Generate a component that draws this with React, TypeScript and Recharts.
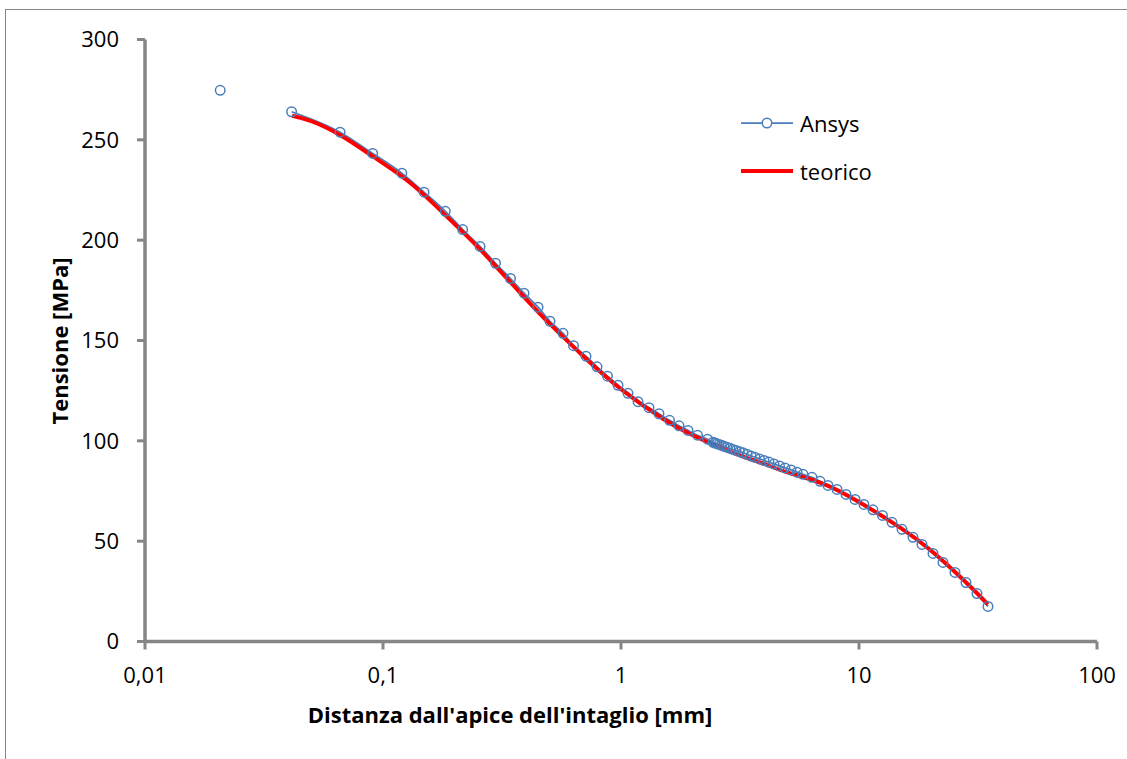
import { ComposedChart, Line, XAxis, YAxis, Legend } from 'recharts';

// Ansys (FEM) points: distance from notch tip [mm] and stress [MPa]
const ansysX = [
  0.0413, 0.066, 0.0905, 0.12, 0.1487, 0.1827, 0.2162, 0.2557, 0.297, 0.3433,
  0.3913, 0.4481, 0.503, 0.5706, 0.6316, 0.7125, 0.7929, 0.8775, 0.9714, 1.07,
  1.179, 1.311, 1.444, 1.599, 1.753, 1.912, 2.096, 2.309, 2.436, 2.483,
  2.531, 2.58, 2.643, 2.708, 2.788, 2.871, 2.955, 3.042, 3.147, 3.255,
  3.384, 3.517, 3.656, 3.819, 3.989, 4.186, 4.394, 4.634, 4.887, 5.18,
  5.49, 5.818, 6.346, 6.859, 7.409, 8.085, 8.818, 9.621, 10.49, 11.45,
  12.55, 13.76, 15.16, 16.86, 18.39, 20.46, 22.54, 25.31, 28.15, 31.32, 34.83,
];
const ansysY = [
  264.0, 253.8, 243.2, 233.4, 223.9, 214.4, 205.3, 196.9, 188.5, 180.9,
  173.6, 166.6, 159.6, 153.6, 147.4, 142.2, 136.9, 132.2, 127.7, 123.7,
  119.5, 116.5, 113.5, 110.2, 107.5, 105.2, 102.8, 100.8, 99.3, 98.9,
  98.6, 98.2, 97.8, 97.3, 96.8, 96.3, 95.7, 95.2, 94.6, 94.0,
  93.3, 92.5, 91.8, 91.0, 90.2, 89.4, 88.5, 87.5, 86.5, 85.5,
  84.4, 83.3, 81.8, 79.8, 77.8, 75.8, 73.3, 70.8, 68.3, 65.6,
  62.8, 59.4, 55.9, 51.9, 48.4, 43.9, 39.4, 34.4, 29.4, 23.9, 17.5,
];

// first node, not joined to the rest of the curve
const loneX = [0.0207];
const loneY = [274.7];

// theoretical curve
const teoX = [
  0.0415, 0.05, 0.066, 0.09, 0.12, 0.15, 0.2, 0.25, 0.3, 0.4, 0.5, 0.7, 1,
  1.5, 2, 3, 4, 5, 7, 10, 15, 20, 25, 30, 34.8,
];
const teoY = [
  262.0, 259.3, 252.4, 242.0, 231.8, 222.2, 208.0, 196.7, 186.6, 170.5, 158.5, 141.8, 125.8,
  111.0, 102.8, 93.8, 88.5, 84.3, 78.8, 69.5, 56.5, 45.5, 35.3, 26.3, 18.5,
];

const xTicks = [0.01, 0.1, 1, 10, 100];
const yTicks = [0, 50, 100, 150, 200, 250, 300];

const ansysData = ansysX.map((x, i) => ({ x, y: ansysY[i] }));
const loneData = loneX.map((x, i) => ({ x, y: loneY[i] }));
const teoData = teoX.map((x, i) => ({ x, y: teoY[i] }));

const BLUE = '#4A7EBB';
const RED = '#FF0000';
const AXIS = '#868686';
const FONT = '"Open Sans", sans-serif';

const tickStyle = { fontSize: 22, fill: '#000', fontFamily: FONT };

function LegendBox() {
  const row = { display: 'flex', alignItems: 'center', height: 30 } as const;
  const text = { fontFamily: FONT, fontSize: 22, color: '#000', marginLeft: 7, lineHeight: '30px' };
  return (
    <div>
      <div style={row}>
        <svg width={52} height={30}>
          <line x1={0} y1={15} x2={52} y2={15} stroke={BLUE} strokeWidth={1.75} />
          <circle cx={26} cy={15} r={4.75} fill="#fff" stroke={BLUE} strokeWidth={1.5} />
        </svg>
        <span style={text}>Ansys</span>
      </div>
      <div style={{ ...row, marginTop: 18 }}>
        <svg width={52} height={30}>
          <line x1={0} y1={15} x2={52} y2={15} stroke={RED} strokeWidth={4} />
        </svg>
        <span style={text}>teorico</span>
      </div>
    </div>
  );
}

export default function App() {
  const dot = { r: 4.75, fill: 'none', stroke: BLUE, strokeWidth: 1.5 };
  return (
    <div>
      <div
        style={{
          position: 'absolute', left: 5, top: 9, width: 1130, height: 760,
          border: `1px solid ${AXIS}`, boxSizing: 'border-box', background: '#fff',
        }}
      />
      <div style={{ position: 'absolute', left: 0, top: 0 }}>
        <ComposedChart width={1127} height={759} margin={{ top: 39.5, right: 30, bottom: 0, left: 0 }}>
          <XAxis
            dataKey="x"
            type="number"
            scale="log"
            domain={[0.01, 100]}
            ticks={xTicks}
            allowDataOverflow
            height={117.5}
            tickFormatter={(v: number) => String(v).replace('.', ',')}
            tick={tickStyle}
            tickSize={8}
            tickMargin={18}
            axisLine={{ stroke: AXIS, strokeWidth: 3.5 }}
            tickLine={{ stroke: AXIS, strokeWidth: 3 }}
            label={{
              value: "Distanza dall'apice dell'intaglio [mm]",
              position: 'insideBottom',
              offset: 36,
              dx: -111,
              style: { fontFamily: FONT, fontSize: 22, fontWeight: 700, fill: '#000' },
            }}
          />
          <YAxis
            type="number"
            domain={[0, 300]}
            ticks={yTicks}
            width={145}
            tick={tickStyle}
            tickSize={8}
            tickMargin={18}
            axisLine={{ stroke: AXIS, strokeWidth: 3.5 }}
            tickLine={{ stroke: AXIS, strokeWidth: 3 }}
            label={{
              content: () => (
                <text
                  transform="translate(68,341) rotate(-90)"
                  textAnchor="middle"
                  style={{ fontFamily: FONT, fontSize: 22, fontWeight: 700, fill: '#000' }}
                >
                  Tensione [MPa]
                </text>
              ),
            }}
          />
          <Legend
            layout="horizontal"
            verticalAlign="middle"
            content={() => <LegendBox />}
            wrapperStyle={{ left: 741, top: 108, width: 'auto' }}
          />
          <Line
            data={loneData}
            dataKey="y"
            stroke={BLUE}
            strokeWidth={1.75}
            dot={dot}
            isAnimationActive={false}
            legendType="none"
          />
          <Line
            data={ansysData}
            dataKey="y"
            name="Ansys"
            type="monotone"
            stroke={BLUE}
            strokeWidth={1.75}
            dot={dot}
            isAnimationActive={false}
          />
          <Line
            data={teoData}
            dataKey="y"
            name="teorico"
            type="natural"
            stroke={RED}
            strokeWidth={4}
            dot={false}
            isAnimationActive={false}
          />
        </ComposedChart>
      </div>
    </div>
  );
}
